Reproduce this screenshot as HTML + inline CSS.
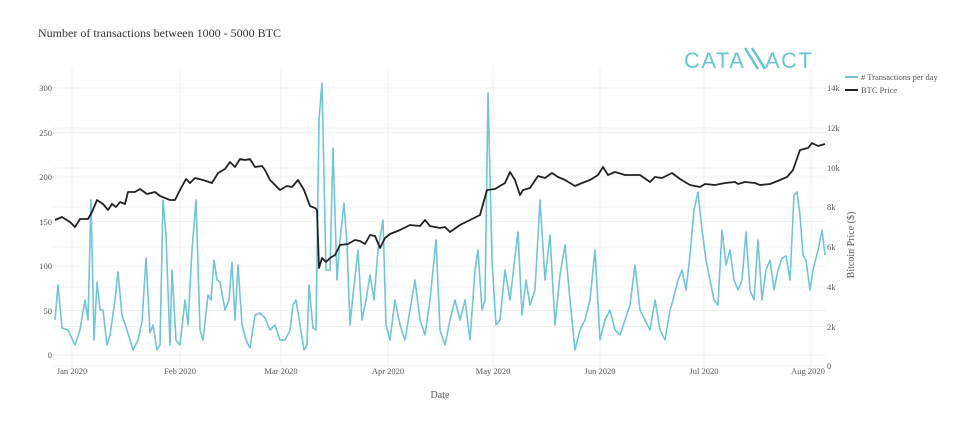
<!DOCTYPE html>
<html><head><meta charset="utf-8"><style>
body{margin:0;background:#fff;width:960px;height:421px;overflow:hidden}
svg text{font-family:"Liberation Serif",serif;fill:#555}
</style></head><body>
<svg width="960" height="421" xmlns="http://www.w3.org/2000/svg">
<text x="38" y="37" font-size="12" fill="#333" style="fill:#333">Number of transactions between 1000 - 5000 BTC</text>
<text x="684" y="68" font-size="22" style="fill:#6cc3d3;font-family:'Liberation Sans',sans-serif;letter-spacing:1.5px">CATA</text>
<path d="M745 48 L758 69 M752 48 L765 69" stroke="#6cc3d3" stroke-width="2.6" fill="none"/>
<text x="765" y="68" font-size="22" style="fill:#6cc3d3;font-family:'Liberation Sans',sans-serif;letter-spacing:1.5px">ACT</text>
<g stroke="#f0f0f0" stroke-width="1">
<line x1="53" x2="826" y1="355" y2="355"/><line x1="53" x2="826" y1="310.5" y2="310.5"/><line x1="53" x2="826" y1="266" y2="266"/><line x1="53" x2="826" y1="221.5" y2="221.5"/><line x1="53" x2="826" y1="177" y2="177"/><line x1="53" x2="826" y1="132.5" y2="132.5"/><line x1="53" x2="826" y1="88" y2="88"/>
<line x1="53" x2="826" y1="366" y2="366"/><line x1="53" x2="826" y1="326.5" y2="326.5"/><line x1="53" x2="826" y1="287" y2="287"/><line x1="53" x2="826" y1="247" y2="247"/><line x1="53" x2="826" y1="207" y2="207"/><line x1="53" x2="826" y1="168" y2="168"/><line x1="53" x2="826" y1="128" y2="128"/>
<line x1="72" x2="72" y1="68" y2="366"/><line x1="180" x2="180" y1="68" y2="366"/><line x1="281" x2="281" y1="68" y2="366"/><line x1="388" x2="388" y1="68" y2="366"/><line x1="493" x2="493" y1="68" y2="366"/><line x1="600" x2="600" y1="68" y2="366"/><line x1="704" x2="704" y1="68" y2="366"/><line x1="811" x2="811" y1="68" y2="366"/>
</g>
<g font-size="8.5" text-anchor="end">
<text x="52" y="358">0</text><text x="52" y="314">50</text><text x="52" y="269">100</text><text x="52" y="225">150</text><text x="52" y="180">200</text><text x="52" y="136">250</text><text x="52" y="91">300</text>
</g>
<g font-size="8.5">
<text x="827" y="369">0</text><text x="827" y="330">2k</text><text x="827" y="290">4k</text><text x="827" y="250">6k</text><text x="827" y="210">8k</text><text x="827" y="131">12k</text><text x="827" y="171">10k</text><text x="827" y="91">14k</text>
</g>
<g font-size="8.5" text-anchor="middle">
<text x="72" y="374">Jan 2020</text><text x="180" y="374">Feb 2020</text><text x="281" y="374">Mar 2020</text><text x="388" y="374">Apr 2020</text><text x="493" y="374">May 2020</text><text x="600" y="374">Jun 2020</text><text x="704" y="374">Jul 2020</text><text x="808" y="374">Aug 2020</text>
</g>
<text x="440" y="398" font-size="10" text-anchor="middle">Date</text>
<text transform="translate(854,245) rotate(-90)" font-size="10" text-anchor="middle">Bitcoin Price ($)</text>
<line x1="845" x2="858" y1="77" y2="77" stroke="#6cc3d3" stroke-width="2"/>
<text x="861" y="80" font-size="8.5"># Transactions per day</text>
<line x1="845" x2="858" y1="90" y2="90" stroke="#222" stroke-width="2"/>
<text x="861" y="93" font-size="8.5">BTC Price</text>
<polyline fill="none" stroke="#72c4d6" stroke-width="1.6" stroke-linejoin="round" points="55,320 58,285 62,328 68,330 75,345 80,330 85,300 88,320 91,200 94,340 97,282 100,310 103,310 107,345 110,335 115,300 118,272 122,315 127,330 133,350 138,340 142,322 146,258 150,333 153,325 157,350 160,345 163,200 166,235 170,345 172,270 176,340 180,345 185,300 188,325 192,250 196,200 200,330 203,340 208,295 211,300 214,260 217,280 220,282 225,310 229,300 232,262 235,320 238,265 242,325 246,340 250,348 255,315 260,313 265,318 270,330 275,325 280,340 285,340 290,330 293,305 296,300 300,325 304,350 307,345 309,285 313,328 316,330 319,120 322,83 326,270 330,270 333,148 337,280 340,240 344,203 347,245 350,325 353,295 358,250 362,320 366,300 370,275 374,300 378,250 383,220 386,325 390,340 395,300 400,325 405,340 410,310 415,280 420,320 425,335 430,300 436,240 440,330 445,345 450,320 455,300 460,320 465,300 470,340 475,270 478,250 482,310 485,300 488,93 492,260 496,325 500,320 505,270 510,300 514,265 518,232 522,315 526,280 530,305 535,290 540,200 545,280 550,235 555,325 560,275 565,245 570,300 575,350 580,330 585,320 590,300 595,250 600,340 605,320 610,310 615,330 620,335 625,320 630,305 635,265 640,310 645,320 650,330 655,300 660,330 665,340 670,310 673,300 678,280 682,270 686,290 690,255 694,210 698,192 702,230 706,260 710,280 714,300 718,305 722,230 726,265 730,250 734,280 738,290 742,280 746,232 750,290 754,300 758,240 762,300 766,270 770,260 774,290 778,270 782,258 786,256 790,280 794,195 797,192 800,215 803,255 806,260 810,290 813,270 818,250 822,230 825,255"/>
<polyline fill="none" stroke="#222" stroke-width="1.8" stroke-linejoin="round" points="55,220 62,217 70,222 75,227 80,219 88,219 92,212 97,200 103,204 108,210 112,204 116,207 120,202 125,204 128,192 135,192 140,189 147,194 155,192 160,196 165,198 170,200 175,200 180,190 186,179 190,183 195,178 203,180 212,183 218,173 225,169 230,162 235,167 240,159 245,160 250,159 255,167 262,166 265,170 270,180 275,185 280,190 287,186 292,187 298,180 304,190 310,206 315,208 317,210 319,268 322,258 326,262 330,258 335,255 340,245 348,244 355,240 360,241 365,244 370,235 375,236 380,248 385,238 390,234 400,230 410,225 420,226 425,220 430,226 440,228 445,227 450,232 460,225 470,220 480,215 487,190 495,189 505,183 510,172 515,180 520,195 523,190 530,188 538,176 545,178 552,173 558,177 565,180 575,186 582,183 590,180 598,175 603,167 608,175 615,172 625,175 640,175 650,182 655,177 662,178 672,173 680,179 690,185 700,187 705,184 715,185 725,183 735,182 738,184 745,182 755,183 760,185 770,184 780,180 787,177 793,170 800,150 808,148 812,143 818,146 825,144"/>
</svg>
</body></html>
